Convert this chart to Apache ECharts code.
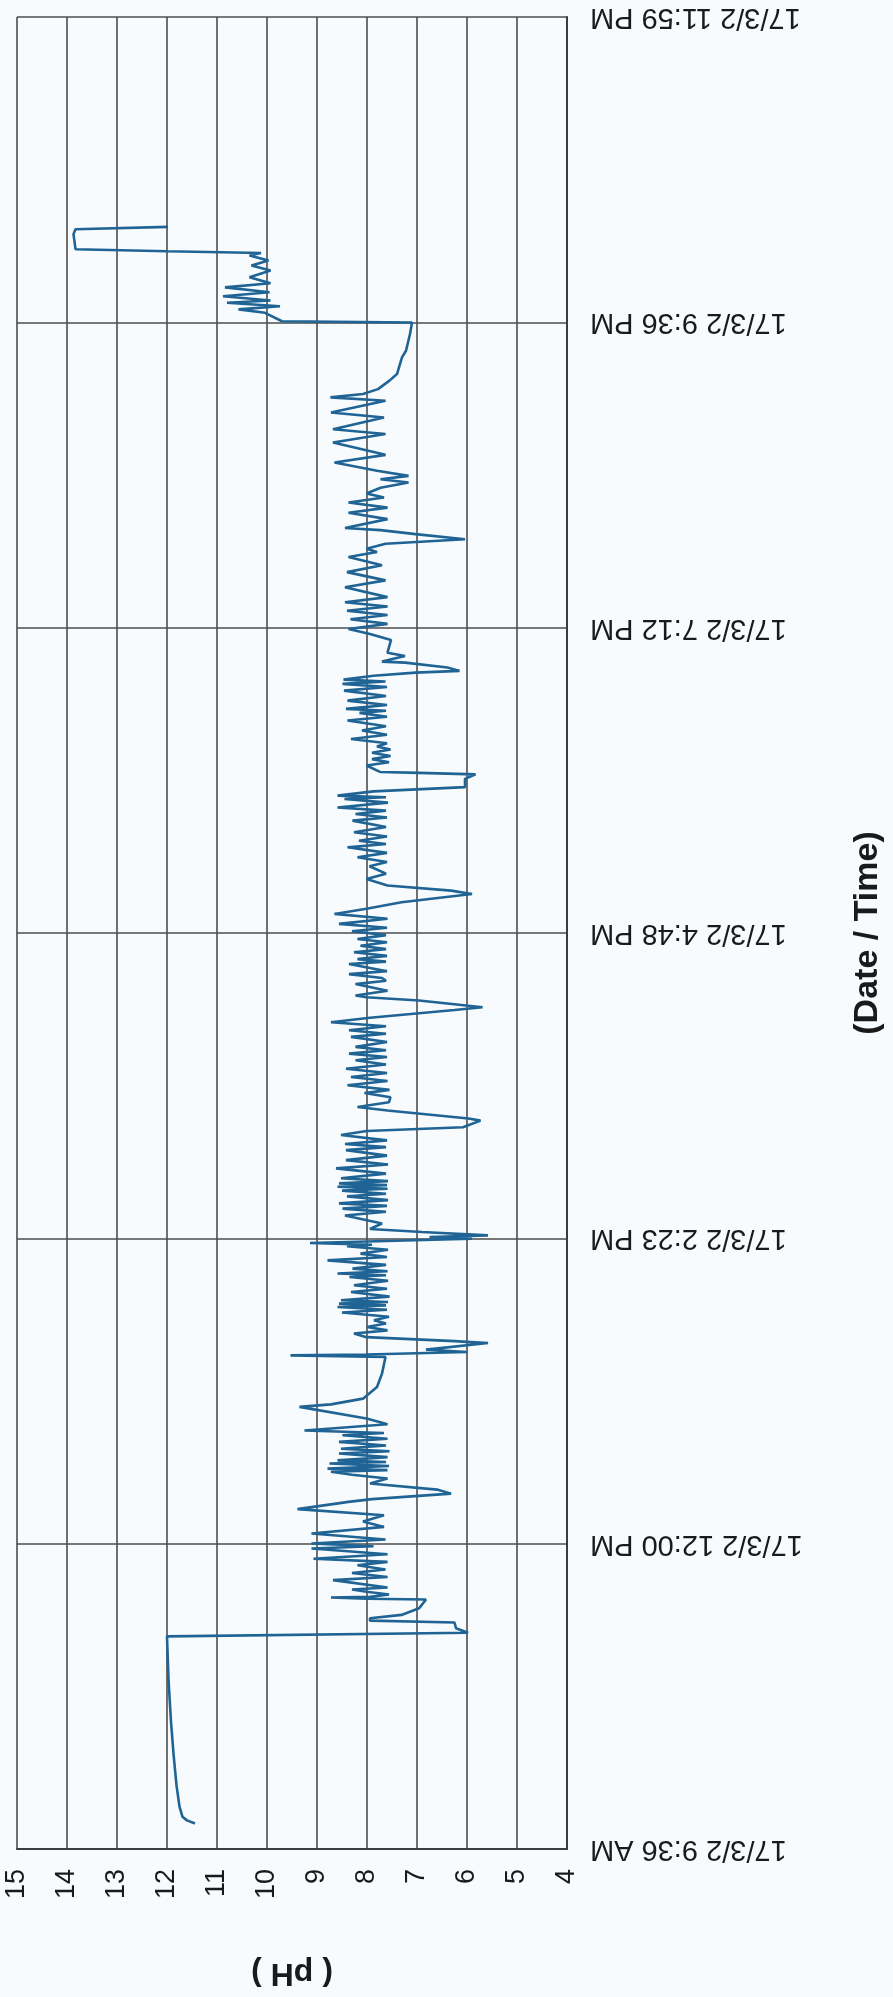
<!DOCTYPE html>
<html>
<head>
<meta charset="utf-8">
<script src="https://cdn.jsdelivr.net/npm/echarts@6/dist/echarts.min.js"></script>
<style>
html,body{margin:0;padding:0;background:#f8fbfd;}
#chart{width:893px;height:1997px;}
</style>
</head>
<body>
<div id="chart"></div>
<script>
// time ticks (value axis in minutes after midnight, 17/3/2)
const timeTickLabels = ['17/3/2 9:36 AM','17/3/2 12:00 PM','17/3/2 2:23 PM','17/3/2 4:48 PM','17/3/2 7:12 PM','17/3/2 9:36 PM','17/3/2 11:59 PM'];
const timeStart = 576;   // 9:36 AM
const timeEnd = 1440;    // midnight
const timeStep = 144;
const phTicks = [4,5,6,7,8,9,10,11,12,13,14,15];

// minutes after 9:36 AM
const minutesAfterStart = [
12.0,13.5,15.2,20.0,30.0,45.0,60.0,80.0,100.3,102.0,104.1,106.8,107.7,108.8,110.4,113.5,117.7,118.0,118.6,118.9,
120.0,121.3,122.4,123.3,126.8,128.3,130.2,131.8,133.8,135.4,136.9,139.0,141.7,142.8,144.1,146.0,148.8,151.9,154.5,157.4,
160.3,163.7,165.0,167.6,169.5,172.4,174.7,176.5,177.9,178.7,179.4,180.6,181.8,182.5,183.3,184.8,186.5,187.6,188.8,190.3,
192.0,193.5,195.1,196.2,197.4,200.3,203.0,208.5,209.7,212.4,217.9,224.2,232.0,232.8,233.2,234.4,235.5,238.6,239.5,241.4,
243.1,244.6,246.2,247.8,249.4,251.0,253.0,254.3,255.6,256.4,257.2,258.0,258.8,260.5,262.7,264.2,265.9,268.0,269.8,270.6,
271.4,272.5,273.7,275.5,277.6,279.2,280.8,282.6,284.3,285.0,285.8,287.8,288.6,289.4,291.0,292.4,295.0,298.8,300.5,302.0,
303.3,304.5,306.0,307.8,309.0,310.5,311.4,312.3,313.1,313.9,315.0,316.3,318.5,321.0,322.8,324.9,327.0,329.6,331.0,332.5,
334.2,336.7,338.6,340.4,343.5,344.5,348.3,349.9,352.2,354.5,356.5,358.0,360.2,362.2,364.1,366.0,368.0,370.0,372.0,373.5,
375.1,376.7,378.3,380.6,383.0,384.5,386.1,388.0,389.9,392.0,395.7,397.0,397.7,400.2,401.7,402.5,404.8,407.9,409.5,410.8,
412.6,414.0,417.4,418.5,419.7,421.2,422.9,424.4,426.0,427.6,429.2,431.0,432.8,434.5,436.3,438.7,441.0,443.4,446.5,450.4,
452.0,454.4,457.5,460.0,463.5,465.5,467.7,469.8,472.4,474.0,475.5,477.5,479.5,482.0,485.0,486.5,488.1,489.7,491.2,493.5,
495.2,496.0,496.8,498.8,500.8,504.7,506.8,507.5,507.9,511.0,512.5,514.0,515.5,517.0,518.5,520.0,521.5,523.5,525.5,527.5,
529.5,532.2,534.0,535.8,536.8,537.7,539.5,541.6,543.8,546.3,548.0,549.5,550.6,551.5,553.3,554.8,555.6,557.2,559.5,560.0,
562.6,564.2,570.2,573.0,575.4,577.8,580.0,582.0,584.0,586.0,588.0,590.4,595.1,598.3,602.2,605.4,609.3,611.7,613.2,615.6,
617.7,620.1,622.0,623.0,627.2,630.2,632.6,635.0,637.4,639.3,642.0,644.5,646.0,647.6,650.0,653.9,657.5,663.3,667.3,669.6,
675.1,677.5,683.0,684.6,686.2,688.5,692.5,695.6,703.5,706.6,714.5,719.9,720.5,724.5,726.1,727.6,729.2,730.3,732.3,734.2,
736.5,738.4,741.3,744.4,746.8,749.2,751.5,752.7,753.5,754.5,761.6,763.9,765.0
];
const phValues = [
11.44,11.60,11.69,11.75,11.81,11.87,11.92,11.97,12.00,5.98,6.22,6.25,7.94,7.94,7.31,6.96,6.82,8.01,8.72,7.94,
7.56,8.01,8.30,7.59,8.68,7.59,8.30,7.63,8.19,7.59,9.07,7.59,9.11,7.87,9.11,7.63,9.11,7.66,8.08,7.66,
9.39,8.37,7.90,6.32,6.60,7.94,7.59,8.30,8.72,7.59,8.79,7.56,8.75,7.62,8.59,7.59,8.56,7.55,8.52,7.62,
8.56,7.59,8.49,7.66,9.25,7.59,8.01,9.35,8.72,8.08,7.80,7.70,7.63,9.53,8.01,6.00,6.82,5.58,6.25,8.01,
8.26,7.59,8.00,7.62,7.86,7.56,8.50,7.60,8.59,7.62,8.56,7.58,8.52,7.55,8.32,7.60,8.26,7.58,8.35,7.62,
8.59,7.59,8.29,7.62,8.79,7.60,8.13,7.58,8.40,7.90,9.14,5.90,6.75,5.58,6.90,7.94,7.70,8.44,7.62,8.49,
7.60,8.56,7.58,8.40,7.62,8.50,7.59,8.59,7.60,8.56,7.58,8.52,7.62,8.62,7.58,8.42,7.60,8.42,7.62,8.44,
7.60,8.52,8.01,6.08,5.73,5.97,7.59,8.19,7.56,7.53,8.05,7.55,8.39,7.59,8.32,7.60,8.42,7.62,8.23,7.60,
8.36,7.62,8.23,7.60,8.32,7.62,8.36,7.62,8.72,7.94,6.25,5.69,5.97,6.96,8.01,8.23,7.59,8.23,7.62,7.70,
8.36,7.60,8.36,7.62,8.19,7.60,8.26,7.62,8.13,7.60,8.19,7.62,8.30,7.60,8.56,7.59,8.65,8.01,7.31,5.90,
6.32,7.59,8.01,7.62,7.95,7.60,8.19,7.60,8.39,7.62,8.16,7.60,8.26,7.62,8.29,7.60,8.23,7.62,8.59,7.58,
8.45,7.62,8.59,7.87,6.04,6.04,5.83,6.96,7.73,8.01,7.56,7.90,7.53,7.90,7.53,7.80,7.60,8.32,7.60,8.10,
7.62,8.39,7.60,8.15,7.62,8.42,7.60,8.39,7.62,8.46,7.60,8.49,7.63,8.47,7.87,7.03,6.15,6.39,7.24,7.70,
7.24,7.59,7.52,7.94,8.37,7.59,8.33,7.59,8.40,7.59,8.44,7.59,8.44,7.63,8.40,7.70,8.37,7.80,8.01,7.63,
6.04,7.03,7.73,8.44,7.59,8.37,7.59,8.37,7.66,8.01,7.73,7.17,7.73,7.17,7.80,8.65,7.63,8.68,7.63,8.68,
7.66,8.72,7.63,8.73,8.08,7.78,7.55,7.40,7.30,7.22,7.14,7.10,9.70,10.04,10.57,9.74,10.80,9.93,10.88,9.95,
10.84,9.93,10.35,9.93,10.31,9.97,10.35,10.12,12.00,13.83,13.87,13.83,11.98
];

const seriesData = minutesAfterStart.map((m, i) => [phValues[i], timeStart + m]);

const chart = echarts.init(document.getElementById('chart'), null, {renderer: 'canvas'});
const FONT = '"Liberation Sans", Arial, sans-serif';
chart.setOption({
  backgroundColor: '#f8fbfd',
  animation: false,
  grid: {left: 17, right: 319, top: 17, bottom: 148, containLabel: false},
  xAxis: {
    type: 'value', min: phTicks[0], max: phTicks[phTicks.length - 1], interval: 1,
    inverse: true, position: 'bottom',
    name: '( pH )', nameLocation: 'middle', nameRotate: 180, nameGap: 108,
    nameTextStyle: {fontFamily: FONT, fontSize: 32, fontWeight: 'bold', color: '#1a1a1a'},
    axisLine: {show: true, lineStyle: {color: '#3c3c3c', width: 2}},
    axisTick: {show: false},
    axisLabel: {rotate: 90, margin: 20, fontFamily: FONT, fontSize: 27, color: '#1a1a1a'},
    splitLine: {show: true, lineStyle: {color: '#4d4d4d', width: 1.6}}
  },
  yAxis: {
    type: 'value', min: timeStart, max: timeEnd, interval: timeStep,
    position: 'right',
    name: '(Date / Time)', nameLocation: 'middle', nameRotate: 90, nameGap: 284,
    nameTextStyle: {fontFamily: FONT, fontSize: 34, fontWeight: 'bold', color: '#1a1a1a'},
    axisLine: {show: true, lineStyle: {color: '#3c3c3c', width: 2}},
    axisTick: {show: false},
    axisLabel: {
      rotate: 180, margin: 23, fontFamily: FONT, fontSize: 29, color: '#1a1a1a',
      formatter: v => timeTickLabels[Math.round((v - timeStart) / timeStep)] || ''
    },
    splitLine: {show: true, lineStyle: {color: '#4d4d4d', width: 1.6}}
  },
  series: [{
    type: 'line',
    data: seriesData,
    showSymbol: false,
    symbol: 'none',
    smooth: false,
    lineStyle: {color: '#1f6494', width: 2.6},
    itemStyle: {color: '#1f6494'}
  }]
});
</script>
</body>
</html>
